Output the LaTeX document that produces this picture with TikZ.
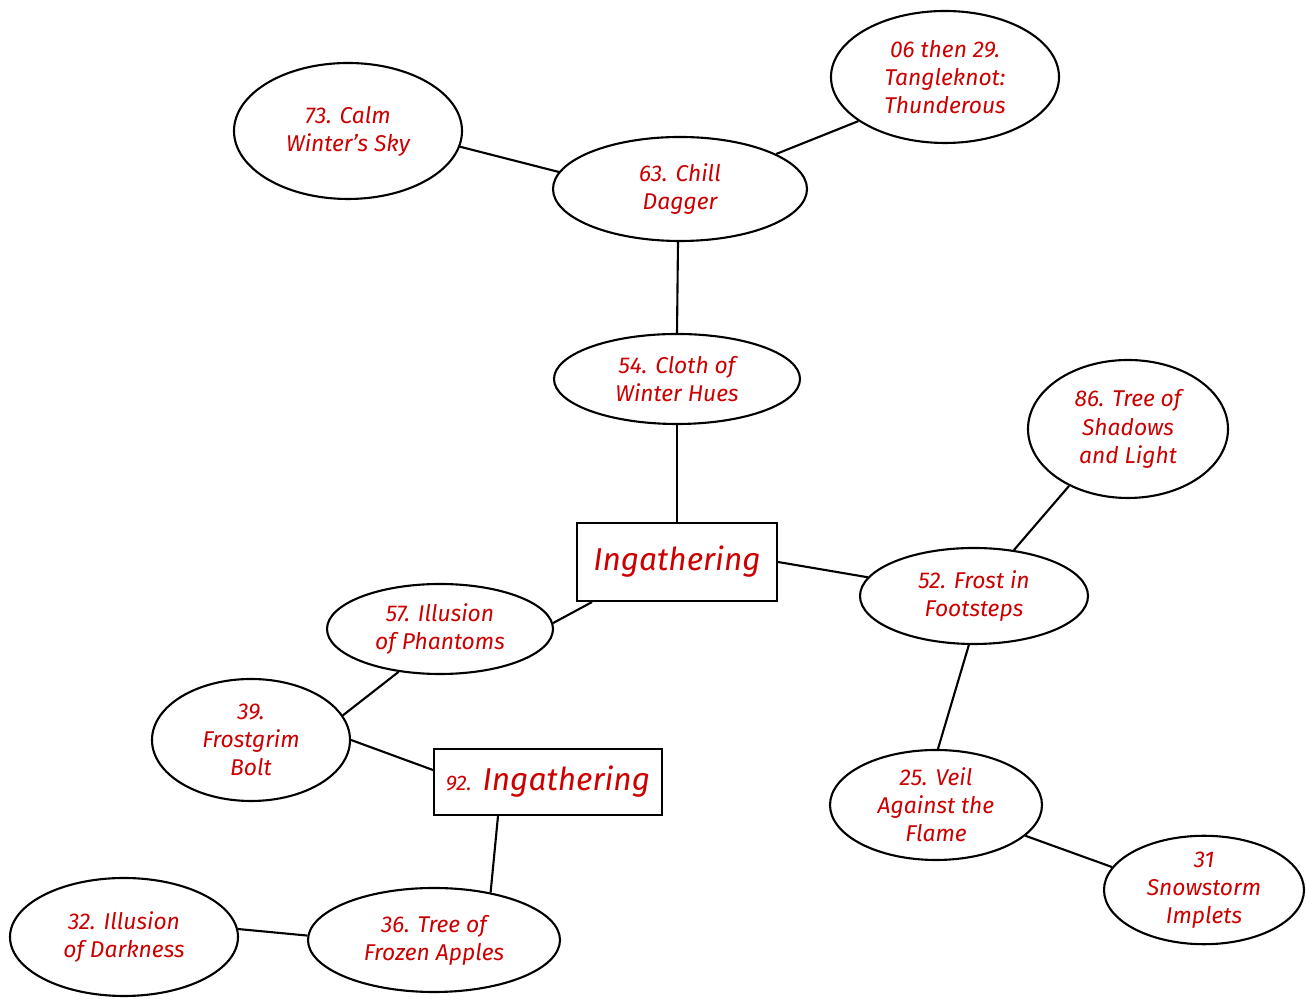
\documentclass[tikz,border=0pt]{standalone}
\usepackage{fontspec}
\setmainfont{Fira Sans}
\usetikzlibrary{shapes.geometric}
\definecolor{myred}{RGB}{204,0,0}

\begin{document}
\begin{tikzpicture}

\tikzstyle{spell} = [draw=black, ellipse, very thick, inner sep=0,
    fill=white, text=myred, align=center,
    font=\fontsize{13}{16}\selectfont\itshape]
\tikzstyle{title} = [draw=black, rectangle, very thick, inner sep=0,
    fill=white, text=myred, align=center,
    font=\fontsize{18}{22}\selectfont\itshape]
\tikzstyle{link} = [draw=black, very thick]

\useasboundingbox (0,0) rectangle (26.12,19.98);

% =========================
% upper branch
% =========================
\node[spell, minimum width=5.08cm, minimum height=2.08cm] (chill) at (13.6,16.2) {63. Chill\\Dagger};
\node[spell, minimum width=4.56cm, minimum height=2.64cm] (tangle) at (18.9,18.44) {06 then 29.\\Tangleknot:\\Thunderous};
\node[spell, minimum width=4.56cm, minimum height=2.72cm] (calm) at (6.96,17.36) {73. Calm\\Winter's Sky};
\node[spell, minimum width=4.92cm, minimum height=1.8cm] (cloth) at (13.54,12.4) {54. Cloth of\\Winter Hues};

% =========================
% centre
% =========================
\node[title, minimum width=4.0cm, minimum height=1.56cm] (ing) at (13.54,8.74) {Ingathering};

% =========================
% right branch
% =========================
\node[spell, minimum width=4.56cm, minimum height=1.92cm] (frost) at (19.48,8.06) {52. Frost in\\Footsteps};
\node[spell, minimum width=4.0cm, minimum height=2.76cm] (shadows) at (22.56,11.4) {86. Tree of\\Shadows\\and Light};
\node[spell, minimum width=4.24cm, minimum height=2.2cm] (veil) at (18.72,3.88) {25. Veil\\Against the\\Flame};
\node[spell, minimum width=4.0cm, minimum height=2.12cm] (snow) at (24.08,2.18) {31\\Snowstorm\\Implets};

% =========================
% left branch
% =========================
\node[spell, minimum width=4.52cm, minimum height=1.8cm] (phantoms) at (8.8,7.4) {57. Illusion\\of Phantoms};
\node[spell, minimum width=3.96cm, minimum height=2.44cm] (bolt) at (5.02,5.18) {39.\\Frostgrim\\Bolt};
\node[title, minimum width=4.56cm, minimum height=1.32cm] (ingb) at (10.96,4.34) {{\fontsize{12}{14}\selectfont 92.} Ingathering};
\node[spell, minimum width=5.04cm, minimum height=2.08cm] (apples) at (8.68,1.18) {36. Tree of\\Frozen Apples};
\node[spell, minimum width=4.56cm, minimum height=2.36cm] (darkness) at (2.48,1.24) {32. Illusion\\of Darkness};

% connectors
\draw[link] (calm.-8) -- (chill.172);
\draw[link] (chill.20) -- (tangle.207);
\draw[link] ([xshift=-0.04cm]chill.south) -- (cloth.north);
\draw[link] (cloth.south) -- (ing.north);
\draw[link] (ing.east) -- (frost.170);
\draw[link] (frost.49) -- (shadows.224);
\draw[link] (frost.264) -- (veil.88);
\draw[link] (veil.-19) -- (snow.166);
\draw[link] ([xshift=-1.7cm]ing.south) -- (phantoms.3);
\draw[link] (phantoms.226) -- (bolt.15);
\draw[link] (bolt.east) -- ([yshift=0.24cm]ingb.west);
\draw[link] ([xshift=-1cm]ingb.south) -- (apples.40);
\draw[link] (apples.178) -- (darkness.4);

\end{tikzpicture}
\end{document}
